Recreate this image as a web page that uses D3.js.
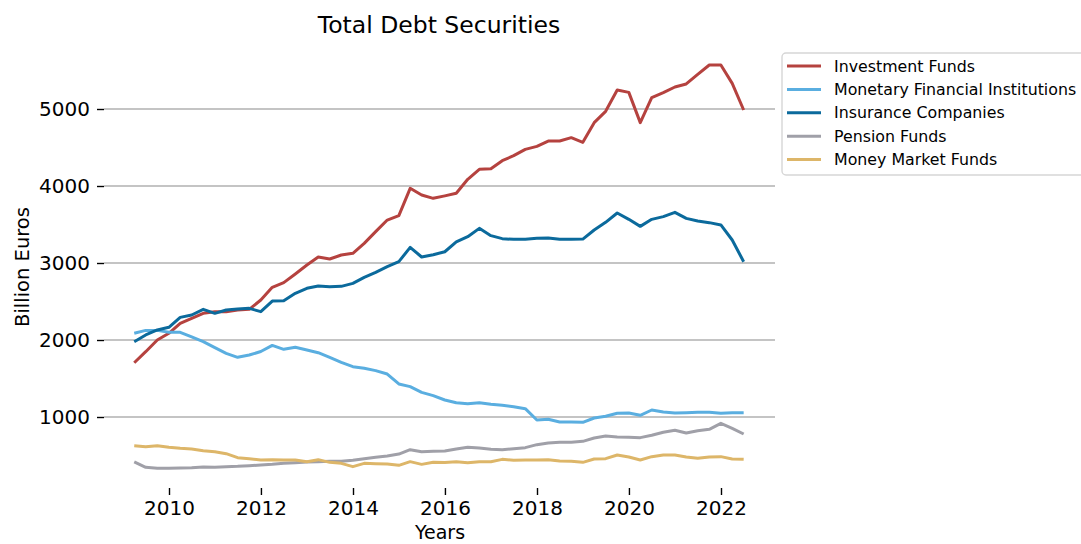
<!DOCTYPE html>
<html>
<head>
<meta charset="utf-8">
<script src="https://cdn.jsdelivr.net/npm/d3@7"></script>
<style>
  html, body { margin: 0; padding: 0; background: #fff; }
  svg { display: block; font-family: "DejaVu Sans", sans-serif; }
</style>
</head>
<body>
<svg id="chart" width="1081" height="544"></svg>
<script>
// ---- Data (billion euros, quarterly) ----
const quarters = [
  "2009Q1","2009Q2","2009Q3","2009Q4","2010Q1","2010Q2","2010Q3","2010Q4",
  "2011Q1","2011Q2","2011Q3","2011Q4","2012Q1","2012Q2","2012Q3","2012Q4",
  "2013Q1","2013Q2","2013Q3","2013Q4","2014Q1","2014Q2","2014Q3","2014Q4",
  "2015Q1","2015Q2","2015Q3","2015Q4","2016Q1","2016Q2","2016Q3","2016Q4",
  "2017Q1","2017Q2","2017Q3","2017Q4","2018Q1","2018Q2","2018Q3","2018Q4",
  "2019Q1","2019Q2","2019Q3","2019Q4","2020Q1","2020Q2","2020Q3","2020Q4",
  "2021Q1","2021Q2","2021Q3","2021Q4","2022Q1","2022Q2"
];

const investmentFunds = [
  1705,1848,2000,2087,2216,2281,2346,2368,2368,2390,2398,2519,2684,2745,2857,2974,
  3078,3052,3104,3126,3255,3407,3558,3615,3970,3883,3840,3872,3905,4087,4216,4225,
  4329,4394,4476,4515,4584,4584,4628,4567,4823,4970,5247,5216,4823,5147,5212,5286,
  5325,5450,5571,5571,5333,4987
];
const monetaryFinancialInstitutions = [
  2087,2125,2125,2100,2100,2040,1978,1900,1827,1775,1805,1850,1930,1879,1905,1870,
  1835,1775,1710,1654,1632,1602,1558,1429,1394,1320,1277,1221,1186,1173,1186,1165,
  1152,1134,1108,961,970,935,935,931,987,1009,1048,1052,1022,1091,1065,1052,
  1056,1061,1061,1048,1056,1056
];
const insuranceCompanies = [
  1978,2065,2130,2165,2294,2325,2398,2346,2390,2403,2411,2368,2506,2510,2606,2671,
  2701,2693,2697,2736,2814,2879,2952,3017,3203,3078,3108,3146,3273,3342,3450,3355,
  3316,3307,3307,3320,3325,3307,3307,3311,3429,3528,3649,3567,3476,3567,3602,3658,
  3580,3545,3524,3494,3299,3017
];
const pensionFunds = [
  416,346,333,333,338,342,351,346,355,359,368,377,385,398,407,416,
  420,424,424,437,459,476,494,519,576,550,554,558,584,606,597,580,
  576,589,602,641,662,671,671,684,727,753,740,736,732,762,801,827,
  792,822,840,918,853,779
];
const moneyMarketFunds = [
  628,615,628,606,593,584,563,550,524,472,459,442,446,442,442,420,
  446,411,398,355,398,394,390,372,420,385,411,409,420,407,420,420,
  450,437,442,442,446,429,424,411,455,459,506,481,442,485,506,506,
  481,463,481,485,455,450
];

const seriesNames = ["Investment Funds","Monetary Financial Institutions","Insurance Companies","Pension Funds","Money Market Funds"];
const seriesColors = ["#B5423F","#5AAEE0","#0B6A9C","#A0A0A8","#DDB669"];
const seriesValues = [investmentFunds, monetaryFinancialInstitutions, insuranceCompanies, pensionFunds, moneyMarketFunds];

const yTicks = [1000, 2000, 3000, 4000, 5000];
const xTickYears = [2010, 2012, 2014, 2016, 2018, 2020, 2022];

// ---- Helpers ----
const parseQuarter = q => {
  const yr = +q.slice(0, 4), qn = +q.slice(5);
  return new Date(yr, qn * 3, 0); // quarter end
};
const dates = quarters.map(parseQuarter);

// ---- Layout ----
const svg = d3.select("#chart");
const plotLeft = 104, plotRight = 775, plotBottom = 488;

const x = d3.scaleTime()
  .domain([new Date(2010, 0, 1), new Date(2022, 0, 1)])
  .range([169, 721]);
const y = d3.scaleLinear()
  .domain([1000, 5000])
  .range([417, 109]);

svg.append("rect").attr("width", 1081).attr("height", 544).attr("fill", "#fff");

// gridlines
svg.append("g").selectAll("line").data(yTicks).join("line")
  .attr("x1", plotLeft).attr("x2", plotRight)
  .attr("y1", d => y(d)).attr("y2", d => y(d))
  .attr("stroke", "#b0b0b0").attr("stroke-width", 1.6);

// y axis (no spine)
const yAxis = svg.append("g")
  .attr("transform", `translate(${plotLeft},0)`)
  .call(d3.axisLeft(y).tickValues(yTicks).tickSize(7).tickPadding(7).tickFormat(d3.format("d")));
yAxis.select(".domain").remove();
yAxis.selectAll("line").attr("stroke", "#000").attr("stroke-width", 1.4);
yAxis.selectAll("text").attr("font-size", 20).attr("fill", "#000")
  .attr("font-family", "DejaVu Sans");

// x axis (no spine)
const xAxis = svg.append("g")
  .attr("transform", `translate(0,${plotBottom})`)
  .call(d3.axisBottom(x).tickValues(xTickYears.map(yr => new Date(yr, 0, 1)))
    .tickSize(7).tickPadding(6).tickFormat(d3.timeFormat("%Y")));
xAxis.select(".domain").remove();
xAxis.selectAll("line").attr("stroke", "#000").attr("stroke-width", 1.4);
xAxis.selectAll("text").attr("font-size", 20).attr("fill", "#000")
  .attr("font-family", "DejaVu Sans");

// lines
const line = d3.line().x((d, i) => x(dates[i])).y(d => y(d));
svg.append("g").selectAll("path").data(seriesValues).join("path")
  .attr("d", d => line(d))
  .attr("fill", "none")
  .attr("stroke", (d, i) => seriesColors[i])
  .attr("stroke-width", 3)
  .attr("stroke-linejoin", "round")
  .attr("stroke-linecap", "butt");

// title & labels
svg.append("text").attr("x", 439).attr("y", 33).attr("text-anchor", "middle")
  .attr("font-size", 23.5).attr("fill", "#000").text("Total Debt Securities");
svg.append("text").attr("x", 440).attr("y", 539).attr("text-anchor", "middle")
  .attr("font-size", 19).attr("fill", "#000").text("Years");
svg.append("text").attr("transform", "translate(29,267) rotate(-90)")
  .attr("text-anchor", "middle").attr("font-size", 19.5).attr("fill", "#000").text("Billion Euros");

// legend
const lg = svg.append("g");
lg.append("rect").attr("x", 782).attr("y", 53).attr("width", 320).attr("height", 122)
  .attr("rx", 4).attr("fill", "#fff").attr("fill-opacity", 0.8)
  .attr("stroke", "#d6d6d6").attr("stroke-width", 1.4);
const rowY = d3.scalePoint().domain(seriesNames).range([66, 159.5]);
const items = lg.selectAll("g.item").data(seriesNames).join("g").attr("class", "item")
  .attr("transform", d => `translate(0,${rowY(d)})`);
items.append("line").attr("x1", 787).attr("x2", 821).attr("y1", 0).attr("y2", 0)
  .attr("stroke", (d, i) => seriesColors[i]).attr("stroke-width", 3);
items.append("text").attr("x", 834).attr("y", 0).attr("dy", "0.36em")
  .attr("font-size", 15.8).attr("fill", "#000").text(d => d);
</script>
</body>
</html>
